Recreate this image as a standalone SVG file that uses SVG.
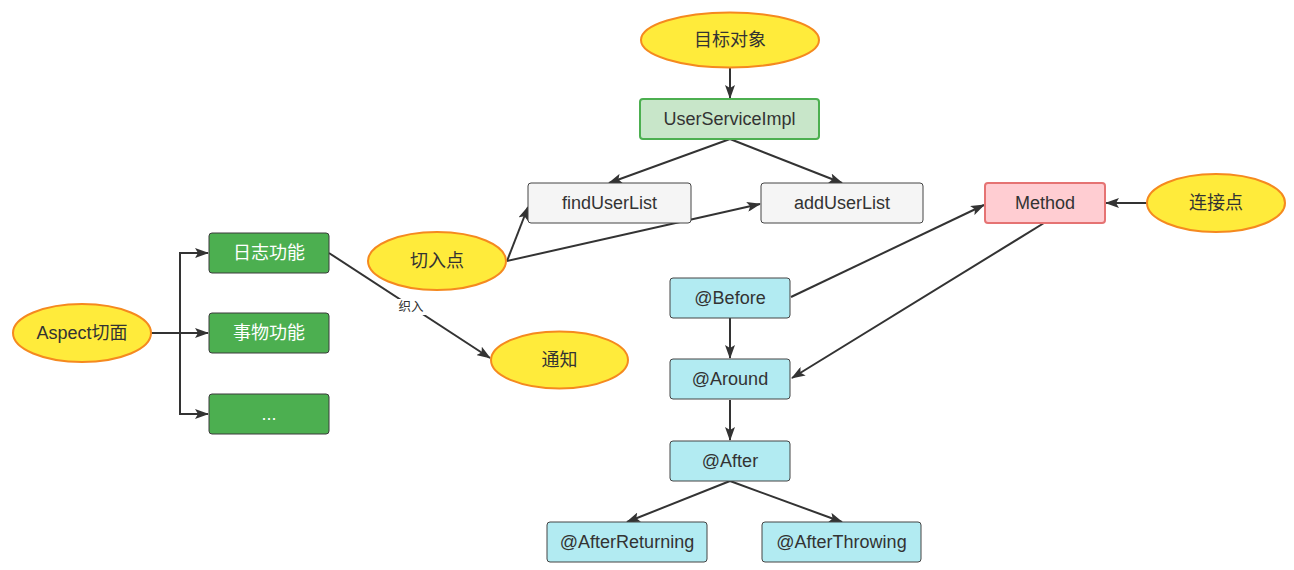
<svg xmlns="http://www.w3.org/2000/svg" width="1294" height="570" viewBox="0 0 1294 570">
<style>
text{font-family:"Liberation Sans","Noto Sans CJK SC",sans-serif;font-size:18px;fill:#333;text-anchor:middle;dominant-baseline:central}
.ell{fill:#ffeb3b;stroke:#f5891f;stroke-width:2}
.grn{fill:#4caf50;stroke:#3b3b3b;stroke-width:1}
.wt{fill:#fff}
.gray{fill:#f5f5f5;stroke:#444;stroke-width:1}
.cyan{fill:#b2ebf2;stroke:#444;stroke-width:1}
.usi{fill:#c8e6c9;stroke:#4caf50;stroke-width:2}
.meth{fill:#ffcdd2;stroke:#e57373;stroke-width:2}
.c path{fill:none;stroke:#333;stroke-width:2;marker-end:url(#ah)}
.lbl{font-size:12.5px}
</style>
<defs>
<marker id="ah" markerUnits="userSpaceOnUse" markerWidth="14" markerHeight="10" refX="13" refY="5" orient="auto">
<path d="M0,0 L14,5 L0,10 L3,5 z" fill="#333"/>
</marker>
</defs>
<g class="c" id="connectors">
<path d="M151,333 H180 V253 H208"/>
<path d="M151,333 H208"/>
<path d="M180,333 V414 H208"/>
<path d="M329,253 L490,358"/>
<path d="M730,68 V98"/>
<path d="M730,139 L609,183"/>
<path d="M730,139 L842,183"/>
<path d="M507,261 L528,207"/>
<path d="M507,261 L760,204"/>
<path d="M1147,203 H1106"/>
<path d="M791,297 L984,205"/>
<path d="M1044,223 L792,378"/>
<path d="M730,318 V358"/>
<path d="M730,400 V440"/>
<path d="M730,481 L627,522"/>
<path d="M730,481 L842,522"/>
</g>
<g id="label-zhiru">
<rect x="396" y="299" width="30" height="16" fill="#fff"/>
<text x="411" y="307" class="lbl">织入</text>
</g>
<g id="aspect"><ellipse class="ell" cx="82" cy="333" rx="69" ry="29"/><text x="82" y="333">Aspect切面</text></g>
<g id="log"><rect class="grn" x="209" y="233" width="120" height="40" rx="3"/><text x="269" y="253" class="wt">日志功能</text></g>
<g id="tx"><rect class="grn" x="209" y="313" width="120" height="40" rx="3"/><text x="269" y="333" class="wt">事物功能</text></g>
<g id="etc"><rect class="grn" x="209" y="394" width="120" height="40" rx="3"/><text x="269" y="414" class="wt">...</text></g>
<g id="pointcut"><ellipse class="ell" cx="437" cy="261" rx="69" ry="29"/><text x="437" y="261">切入点</text></g>
<g id="advice"><ellipse class="ell" cx="559.5" cy="360" rx="68.5" ry="28.5"/><text x="559.5" y="360">通知</text></g>
<g id="target"><ellipse class="ell" cx="730" cy="40" rx="89" ry="27.5"/><text x="730" y="40">目标对象</text></g>
<g id="usi"><rect class="usi" x="640" y="99" width="179" height="40" rx="3"/><text x="729.5" y="119">UserServiceImpl</text></g>
<g id="find"><rect class="gray" x="528" y="183" width="163" height="40" rx="3"/><text x="609.5" y="203">findUserList</text></g>
<g id="add"><rect class="gray" x="761" y="183" width="162" height="40" rx="3"/><text x="842" y="203">addUserList</text></g>
<g id="method"><rect class="meth" x="985" y="183" width="120" height="40" rx="3"/><text x="1045" y="203">Method</text></g>
<g id="joinpoint"><ellipse class="ell" cx="1216" cy="203" rx="69" ry="29"/><text x="1216" y="203">连接点</text></g>
<g id="before"><rect class="cyan" x="670" y="278" width="120" height="40" rx="3"/><text x="730" y="298">@Before</text></g>
<g id="around"><rect class="cyan" x="670" y="359" width="120" height="40" rx="3"/><text x="730" y="379">@Around</text></g>
<g id="after"><rect class="cyan" x="670" y="441" width="120" height="40" rx="3"/><text x="730" y="461">@After</text></g>
<g id="afterret"><rect class="cyan" x="547" y="522" width="160" height="40" rx="3"/><text x="627" y="542">@AfterReturning</text></g>
<g id="afterthr"><rect class="cyan" x="762" y="522" width="159" height="40" rx="3"/><text x="841.5" y="542">@AfterThrowing</text></g>
</svg>
